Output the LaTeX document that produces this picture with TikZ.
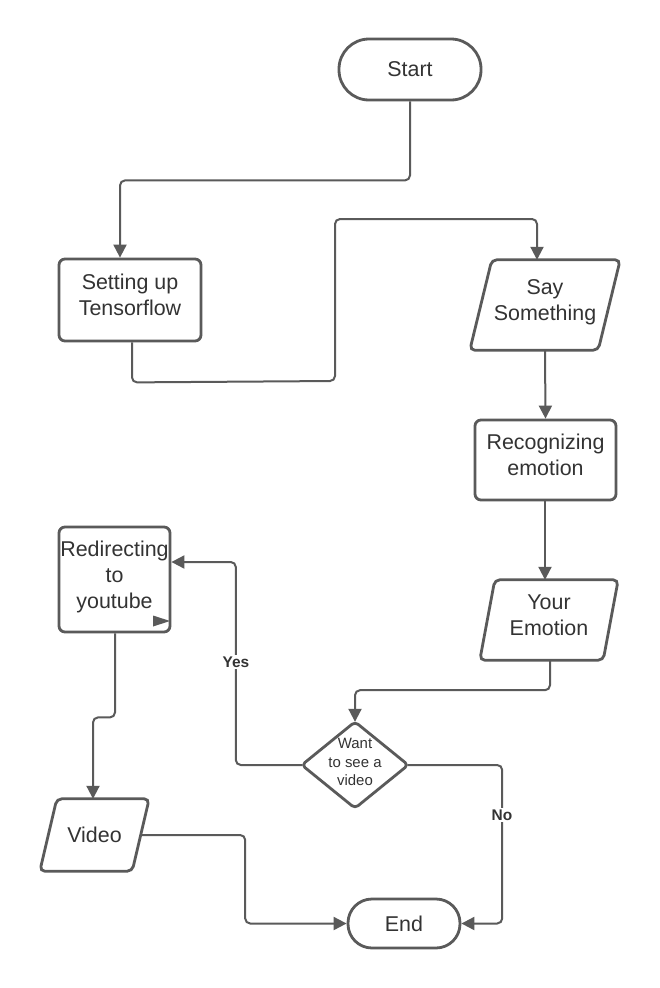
\documentclass[tikz,border=0pt]{standalone}
\usepackage{fontspec}
\setmainfont{Liberation Sans}
\usetikzlibrary{arrows.meta}
\definecolor{linec}{RGB}{90,90,90}
\definecolor{txtc}{RGB}{51,51,51}
\begin{document}
\begin{tikzpicture}[x=1bp,y=-1bp,
  shp/.style={draw=linec, line width=2.8bp, rounded corners=6bp, text=txtc, align=center, inner sep=0pt, font=\fontsize{21.5}{26}\selectfont},
  txtn/.style={text=txtc, align=center, inner sep=0pt, font=\fontsize{21.5}{26}\selectfont},
  lift/.style={execute at end node={\rule[-10bp]{0pt}{0pt}}},
  smalltxt/.style={text=txtc, align=center, inner sep=0pt, font=\fontsize{15}{18.5}\selectfont},
  pshape/.style={draw=linec, line width=2.8bp, rounded corners=5bp},
  conn/.style={draw=linec, line width=2bp, rounded corners=5bp, -{Triangle[length=13bp,width=13bp]}},
  lbl/.style={fill=white, text=txtc, font=\bfseries\fontsize{15.5}{18}\selectfont, inner sep=1.5bp}]
\useasboundingbox (0,0) rectangle (660,988);
\fill[white] (0,0) rectangle (660,988);

\node[shp, rounded corners=30bp, minimum width=142bp, minimum height=61bp] (start) at (410,69.5) {Start};
\node[shp, lift, minimum width=142bp, minimum height=82bp] (setup) at (130,300) {Setting up\\Tensorflow};
\node[txtn, lift, minimum width=150bp, minimum height=90bp] (say) at (545,305) {Say\\Something};
\node[shp, lift, minimum width=141bp, minimum height=80bp] (rec) at (545.5,460) {Recognizing\\emotion};
\node[txtn, lift, minimum width=138bp, minimum height=80bp] (emo) at (549,620) {Your\\Emotion};
\node[minimum width=106bp, minimum height=86bp, inner sep=0pt] (dec) at (355,765) {};
\node[smalltxt] (dect) at (355,762) {Want\\to see a\\video};
\node[shp, lift, minimum width=111bp, minimum height=105bp] (red) at (114.5,579.5) {Redirecting\\to\\youtube};
\node[txtn, minimum width=109bp, minimum height=72bp] (vid) at (94.5,835) {Video};
\node[shp, rounded corners=24bp, minimum width=112bp, minimum height=49bp] (end) at (404,923.5) {End};

% parallelograms and diamond
\draw[pshape] ([xshift=22bp]say.north west) -- (say.north east) -- ([xshift=-22bp]say.south east) -- (say.south west) -- cycle;
\draw[pshape] ([xshift=15bp]emo.north west) -- (emo.north east) -- ([xshift=-15bp]emo.south east) -- (emo.south west) -- cycle;
\draw[pshape] ([xshift=17bp]vid.north west) -- (vid.north east) -- ([xshift=-17bp]vid.south east) -- (vid.south west) -- cycle;
\draw[pshape, rounded corners=4bp] (dec.north) -- (dec.east) -- (dec.south) -- (dec.west) -- cycle;

% connectors
\draw[conn] (start.south) -- ++(0,79) -| ([xshift=-10bp]setup.north);
\draw[conn] ([xshift=2bp]setup.south) -- ++(0,40) -- (335,381) -- (335,219) -| ([xshift=-8bp]say.north);
\draw[conn] (say.south) -- (rec.north);
\draw[conn] ([xshift=-0.5bp]rec.south) -- ([xshift=-0.5bp]rec.south |- emo.north);
\draw[conn] ([xshift=1bp]emo.south) -- ++(0,30) -| (dec.north);
\draw[conn] (dec.west) -- ++(-66,0) |- ([yshift=17.5bp]red.east);
\draw[conn] (dec.east) -- ++(94,0) |- (end.east);
\draw[conn] ([xshift=0.5bp]red.south) -- ++(0,84) -| ([xshift=-1.5bp]vid.north);
\draw[conn] ([xshift=-8.5bp]vid.east) -- ++(104.5,0) |- (end.west);

% stray arrowhead inside the redirect box
\fill[linec] (153,615.5) -- (170,621) -- (153,626.5) -- cycle;

\node[lbl] (yes) at (236,662) {Yes};
\node[lbl] (no) at (502,815) {No};
\end{tikzpicture}
\end{document}
